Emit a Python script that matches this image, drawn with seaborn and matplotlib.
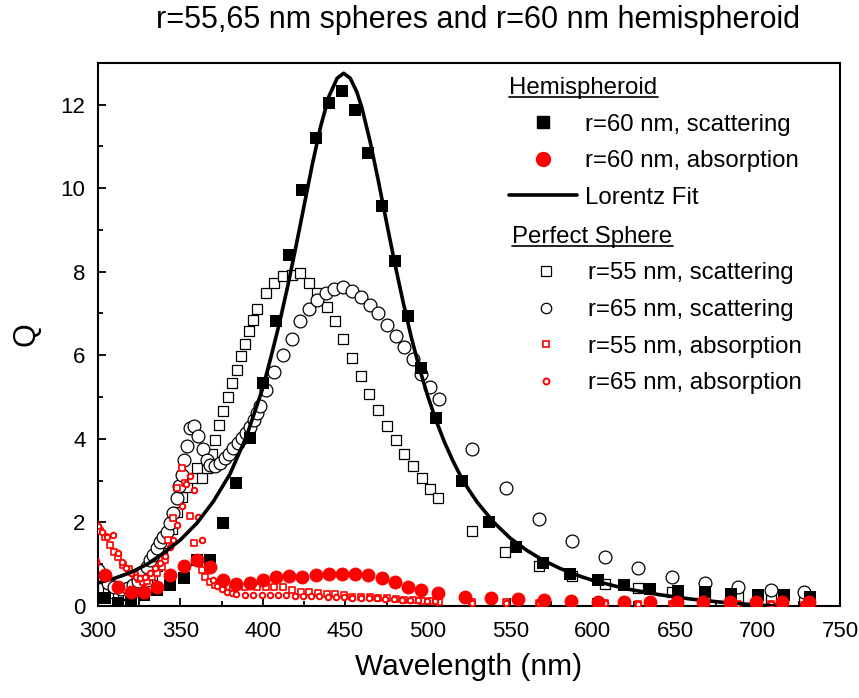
import matplotlib
matplotlib.use("Agg")
import matplotlib.pyplot as plt
import seaborn as sns
from matplotlib.lines import Line2D
from matplotlib.ticker import MultipleLocator

# hemispheroid r=60 nm
hemi_sca_x = [297, 304, 312, 320, 328, 336, 344, 352, 360, 368, 376, 384, 392, 400, 408, 416, 424, 432,
              440, 448, 456, 464, 472, 480, 488, 496, 505, 521, 537, 553.5, 570, 586.5, 603, 619, 635,
              651.5, 668, 684, 700, 716, 732]
hemi_sca_y = [0.4, 0.18, 0.08, 0.1, 0.26, 0.38, 0.5, 0.67, 1.1, 1.1, 1.99, 2.95, 4.02, 5.33, 6.83, 8.41,
              9.96, 11.2, 12.03, 12.33, 11.88, 10.83, 9.58, 8.25, 6.95, 5.69, 4.5, 3.0, 2.0, 1.41, 1.03,
              0.77, 0.61, 0.5, 0.41, 0.36, 0.32, 0.28, 0.25, 0.25, 0.22]

hemi_abs_x = [297, 304, 312, 320, 328, 336, 344, 352, 360, 368, 376, 384, 392, 400, 408, 416, 424, 432,
              440, 448, 456, 464, 472, 480, 488, 496, 506, 522.5, 538.5, 554.5, 570.5, 587, 603, 619,
              635, 651, 667, 683, 699, 715, 731]
hemi_abs_y = [1.04, 0.74, 0.46, 0.34, 0.32, 0.46, 0.74, 0.96, 1.09, 0.93, 0.61, 0.53, 0.54, 0.62, 0.7,
              0.72, 0.7, 0.74, 0.76, 0.77, 0.77, 0.74, 0.66, 0.56, 0.46, 0.37, 0.3, 0.22, 0.2, 0.16,
              0.13, 0.12, 0.1, 0.1, 0.1, 0.1, 0.1, 0.1, 0.1, 0.1, 0.1]

fit_x = [300, 310, 320, 330, 340, 350, 360, 370, 380, 390, 400, 405, 410, 415, 420, 425, 430, 435, 440,
         445, 449, 453, 457, 460, 465, 470, 475, 480, 485, 490, 495, 500, 505, 510, 515, 520, 525, 530,
         540, 550, 560, 570, 580, 590, 600, 620, 640, 660, 680, 700, 720, 740]
fit_y = [0.55, 0.66, 0.8, 1.0, 1.27, 1.58, 1.98, 2.5, 3.15, 4.05, 5.22, 5.97, 6.76, 7.64, 8.59, 9.58,
         10.57, 11.47, 12.19, 12.63, 12.75, 12.63, 12.3, 11.93, 11.12, 10.18, 9.18, 8.2, 7.28, 6.43,
         5.68, 5.02, 4.44, 3.93, 3.49, 3.1, 2.77, 2.48, 2.0, 1.62, 1.33, 1.09, 0.9, 0.74, 0.61, 0.41,
         0.27, 0.16, 0.08, 0.02, -0.03, -0.07]

# perfect spheres
r55_sca_x = [300, 303, 306, 309, 312, 315, 318, 321, 324, 327, 330, 333, 336, 339, 342, 345, 348, 351,
             354, 357.5, 360.2, 362.9, 366, 369, 371, 373.6, 376, 378.6, 381.4, 384.1, 386.5, 389.1,
             391.7, 394.2, 396.6, 401.9, 406.9, 412.4, 417.5, 422.5, 428.1, 433, 438.7, 443.7, 448.8,
             454.2, 459.5, 464.5, 469.6, 475.3, 480.5, 485.6, 490.8, 496.2, 501.3, 506.4, 527, 547,
             567.6, 587.6, 607.6, 627.6, 648, 668, 688, 708, 728]
r55_sca_y = [0.5, 0.42, 0.35, 0.3, 0.27, 0.26, 0.28, 0.32, 0.38, 0.48, 0.6, 0.75, 0.95, 1.2, 1.5, 1.85,
             2.25, 2.6, 2.85, 3.05, 3.3, 3.06, 3.3, 3.64, 3.97, 4.32, 4.66, 5.0, 5.33, 5.65, 5.97, 6.28,
             6.59, 6.85, 7.11, 7.49, 7.74, 7.89, 7.93, 7.96, 7.73, 7.49, 7.15, 6.81, 6.39, 5.93, 5.5,
             5.08, 4.69, 4.3, 3.96, 3.64, 3.34, 3.06, 2.8, 2.58, 1.8, 1.28, 0.95, 0.71, 0.52, 0.42,
             0.34, 0.26, 0.22, 0.2, 0.16]

r65_sca_x = [300, 303, 306, 310, 314, 318, 321, 324, 326.4, 329.5, 331.5, 333.5, 335.6, 337.6, 339.6,
             341.6, 343.7, 345.7, 347.7, 349.3, 350.7, 352.3, 353.8, 355.8, 358.2, 360.8, 363.9, 365.9,
             368, 371, 374, 377, 379.6, 382, 384.7, 387.1, 389.7, 392.2, 394.6, 396.2, 398.2, 401.9,
             406.9, 412, 417.5, 422.5, 427.7, 432.8, 438.3, 443.4, 448.8, 454.2, 459.5, 465, 470,
             475.3, 480.5, 485.6, 490.8, 496, 501.5, 506.8, 527, 547.4, 567.6, 587.6, 607.6, 627.6,
             648, 668, 688, 708, 728]
r65_sca_y = [0.85, 0.7, 0.55, 0.45, 0.4, 0.42, 0.5, 0.6, 0.78, 0.94, 1.1, 1.22, 1.38, 1.54, 1.66, 1.78,
             1.98, 2.22, 2.58, 2.86, 3.14, 3.5, 3.82, 4.26, 4.3, 4.06, 3.75, 3.5, 3.38, 3.34, 3.42, 3.54,
             3.64, 3.78, 3.9, 4.02, 4.15, 4.28, 4.46, 4.62, 4.79, 5.17, 5.59, 6.0, 6.4, 6.83, 7.1, 7.32,
             7.5, 7.59, 7.63, 7.53, 7.39, 7.2, 7.0, 6.73, 6.47, 6.2, 5.91, 5.55, 5.25, 4.95, 3.76, 2.81,
             2.07, 1.55, 1.16, 0.9, 0.69, 0.55, 0.45, 0.38, 0.32]

r55_abs_x = [298.5, 301.2, 304.2, 307.3, 309.8, 312.3, 315.3, 319, 322.4, 325, 327.5, 330, 333, 335.6,
             338.6, 340.6, 342.7, 345.7, 348.1, 350.7, 352.8, 355.8, 358.4, 361, 363, 365, 368, 371,
             376, 382, 389, 396.6, 401.9, 406.9, 412, 417.5, 422.9, 428.1, 433.6, 438.6, 443.7, 449.2,
             454.2, 459.3, 465, 470, 475.1, 480.5, 485.8, 490.8, 496.2, 501.3, 506.8, 527, 547.6,
             567.6, 587.6, 607.6, 627.6, 648, 668, 688, 708, 728]
r55_abs_y = [1.95, 1.8, 1.66, 1.45, 1.3, 1.18, 0.98, 0.88, 0.74, 0.64, 0.58, 0.6, 0.68, 0.78, 0.94, 1.1,
             1.58, 2.1, 2.82, 3.3, 2.94, 2.14, 1.5, 1.1, 0.86, 0.7, 0.58, 0.5, 0.44, 0.42, 0.45, 0.45,
             0.44, 0.46, 0.44, 0.38, 0.34, 0.32, 0.3, 0.29, 0.28, 0.26, 0.22, 0.22, 0.21, 0.18, 0.18,
             0.16, 0.14, 0.14, 0.12, 0.12, 0.1, 0.1, 0.09, 0.08, 0.07, 0.06, 0.05, 0.05, 0.04, 0.04,
             0.04, 0.03]

r65_abs_x = [300, 302.2, 305.3, 309.3, 312.3, 314.5, 317, 320, 323, 325.5, 328.5, 331.5, 334.6, 337.6,
             340.6, 343.7, 345.7, 348.1, 350.7, 353.4, 355.8, 358.2, 360.8, 363.3, 365.5, 367.5, 370,
             372.5, 375, 378, 381, 384, 389, 394.2, 399.3, 404.3, 409.3, 414.3, 419.3, 424.3, 429.3,
             434.3, 439.3, 444.3, 449.3, 454.3, 459.3, 464.3, 469.3, 474.3, 479.3, 484.3, 489.3, 494.3,
             499.3, 504.3, 527, 547.6, 567.6, 587.6, 607.6, 627.6, 648, 668, 688, 708, 728]
r65_abs_y = [1.9, 1.78, 1.66, 1.7, 1.26, 1.05, 0.9, 0.78, 0.7, 0.66, 0.7, 0.78, 0.9, 1.02, 1.2, 1.42,
             1.58, 1.94, 2.38, 2.92, 3.1, 2.78, 2.12, 1.57, 1.15, 0.85, 0.62, 0.48, 0.4, 0.34, 0.3,
             0.28, 0.26, 0.26, 0.25, 0.25, 0.25, 0.25, 0.24, 0.24, 0.23, 0.23, 0.22, 0.22, 0.21, 0.2,
             0.2, 0.19, 0.18, 0.17, 0.16, 0.15, 0.14, 0.13, 0.12, 0.12, 0.08, 0.07, 0.07, 0.06, 0.06,
             0.05, 0.05, 0.05, 0.05, 0.05, 0.05]

sns.set_style("ticks")
plt.rcParams['font.family'] = ['Liberation Sans', 'DejaVu Sans']
plt.rcParams['text.color'] = 'black'
plt.rcParams['axes.labelcolor'] = 'black'

fig = plt.figure(figsize=(8.59, 6.98), dpi=100)
ax = fig.add_axes([0.114, 0.132, 0.864, 0.778])

sns.scatterplot(x=r55_sca_x, y=r55_sca_y, marker='s', s=52, color='white', edgecolor='black',
                linewidth=0.9, ax=ax, zorder=2)
sns.scatterplot(x=r65_sca_x, y=r65_sca_y, marker='o', s=85, color='white', edgecolor='black',
                linewidth=0.9, ax=ax, zorder=2)
sns.scatterplot(x=r55_abs_x, y=r55_abs_y, marker='s', s=20, color='white', edgecolor='red',
                linewidth=1.2, ax=ax, zorder=3)
sns.scatterplot(x=r65_abs_x, y=r65_abs_y, marker='o', s=16, color='white', edgecolor='red',
                linewidth=1.4, ax=ax, zorder=3)
sns.lineplot(x=fit_x, y=fit_y, color='black', linewidth=2.6, ax=ax, sort=False, estimator=None, zorder=4)
sns.scatterplot(x=hemi_sca_x, y=hemi_sca_y, marker='s', s=85, color='black', edgecolor='black',
                linewidth=0, ax=ax, zorder=5)
sns.scatterplot(x=hemi_abs_x, y=hemi_abs_y, marker='o', s=100, color='red', edgecolor='red',
                linewidth=0, ax=ax, zorder=6)

ax.set_xlim(300, 750)
ax.set_ylim(0, 13)
ax.xaxis.set_major_locator(MultipleLocator(50))
ax.xaxis.set_minor_locator(MultipleLocator(25))
ax.yaxis.set_major_locator(MultipleLocator(2))
ax.yaxis.set_minor_locator(MultipleLocator(1))
ax.tick_params(which='both', direction='in', top=False, right=False, width=1.3, labelsize=16, colors='black')
ax.tick_params(which='major', length=6)
ax.tick_params(axis='x', which='major', pad=11)
ax.tick_params(axis='y', which='major', pad=9)
ax.tick_params(which='minor', length=3.5)
for sp in ax.spines.values():
    sp.set_linewidth(1.5)
    sp.set_color('black')

ax.set_xlabel('Wavelength (nm)', fontsize=21.5, labelpad=8)
ax.set_ylabel('Q', fontsize=22, labelpad=14)
fig.text(0.556, 0.971, 'r=55,65 nm spheres and r=60 nm hemispheroid', ha='center', va='center', fontsize=22)

# legends
fs = 17.3
h1 = [Line2D([], [], ls='none', marker='s', ms=8.5, color='black'),
      Line2D([], [], ls='none', marker='o', ms=10, color='red'),
      Line2D([], [], color='black', lw=2.6)]
l1 = ['r=60 nm, scattering', 'r=60 nm, absorption', 'Lorentz Fit']
h2 = [Line2D([], [], ls='none', marker='s', ms=6.8, mfc='white', mec='black', mew=0.9),
      Line2D([], [], ls='none', marker='o', ms=7.5, mfc='white', mec='black', mew=0.9),
      Line2D([], [], ls='none', marker='s', ms=4.3, mfc='white', mec='red', mew=1.2),
      Line2D([], [], ls='none', marker='o', ms=4.3, mfc='white', mec='red', mew=1.4)]
l2 = ['r=55 nm, scattering', 'r=65 nm, scattering', 'r=55 nm, absorption', 'r=65 nm, absorption']

leg1 = ax.legend(h1, l1, title='Hemispheroid', title_fontsize=fs, fontsize=fs, alignment='left',
                 loc='upper left', bbox_to_anchor=(0.548, 0.983), frameon=False, handlelength=2.8,
                 handletextpad=0.33, labelspacing=0.61, borderpad=0.2, borderaxespad=0)
ax.add_artist(leg1)
leg2 = ax.legend(h2, l2, title='Perfect Sphere', title_fontsize=fs, fontsize=fs, alignment='left',
                 loc='upper left', bbox_to_anchor=(0.552, 0.709), frameon=False, handlelength=2.8,
                 handletextpad=0.33, labelspacing=0.61, borderpad=0.2, borderaxespad=0)

fig.canvas.draw()
r = fig.canvas.get_renderer()
for lg in (leg1, leg2):
    bb = lg.get_title().get_window_extent(r).transformed(fig.transFigure.inverted())
    fig.add_artist(Line2D([bb.x0, bb.x1], [bb.y0 + 0.003, bb.y0 + 0.003], color='black', lw=1.2,
                          transform=fig.transFigure))

fig.savefig('out.png', dpi=100)
